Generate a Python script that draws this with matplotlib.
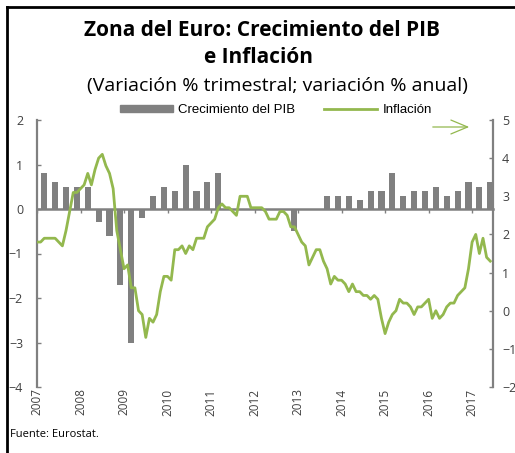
import numpy as np
import matplotlib
matplotlib.use("Agg")
import matplotlib.pyplot as plt
from matplotlib.lines import Line2D

# quarterly GDP growth (% q/q), 2007Q1 - 2017Q2
gdp = [0.8, 0.6, 0.5, 0.5,
       0.5, -0.3, -0.6, -1.7,
       -3.0, -0.2, 0.3, 0.5,
       0.4, 1.0, 0.4, 0.6,
       0.8, 0.0, 0.0, 0.0,
       0.0, 0.0, 0.0, -0.5,
       0.0, 0.0, 0.3, 0.3,
       0.3, 0.2, 0.4, 0.4,
       0.8, 0.3, 0.4, 0.4,
       0.5, 0.3, 0.4, 0.6,
       0.5, 0.6]

# monthly inflation (% y/y), Jan 2007 - Jun 2017
inflacion = [1.8, 1.8, 1.9, 1.9, 1.9, 1.9, 1.8, 1.7, 2.1, 2.6, 3.1, 3.1,
             3.2, 3.3, 3.6, 3.3, 3.7, 4.0, 4.1, 3.8, 3.6, 3.2, 2.1, 1.6,
             1.1, 1.2, 0.6, 0.6, 0.0, -0.1, -0.7, -0.2, -0.3, -0.1, 0.5, 0.9,
             0.9, 0.8, 1.6, 1.6, 1.7, 1.5, 1.7, 1.6, 1.9, 1.9, 1.9, 2.2,
             2.3, 2.4, 2.7, 2.8, 2.7, 2.7, 2.6, 2.5, 3.0, 3.0, 3.0, 2.7,
             2.7, 2.7, 2.7, 2.6, 2.4, 2.4, 2.4, 2.6, 2.6, 2.5, 2.2, 2.2,
             2.0, 1.8, 1.7, 1.2, 1.4, 1.6, 1.6, 1.3, 1.1, 0.7, 0.9, 0.8,
             0.8, 0.7, 0.5, 0.7, 0.5, 0.5, 0.4, 0.4, 0.3, 0.4, 0.3, -0.2,
             -0.6, -0.3, -0.1, 0.0, 0.3, 0.2, 0.2, 0.1, -0.1, 0.1, 0.1, 0.2,
             0.3, -0.2, 0.0, -0.2, -0.1, 0.1, 0.2, 0.2, 0.4, 0.5, 0.6, 1.1,
             1.8, 2.0, 1.5, 1.9, 1.4, 1.3]

years = list(range(2007, 2018))

# bars sit on the last month of each quarter, line on each month
x_q = 2007 + (3 * np.arange(len(gdp)) + 2) / 12
x_m = 2007 + np.arange(len(inflacion)) / 12

gris = "#808080"
verde = "#93b84e"
texto = "#404040"

fig = plt.figure(figsize=(5.15, 4.53), dpi=100)
ax = fig.add_axes([37 / 515, 66 / 453, 456 / 515, 267 / 453])
ax2 = ax.twinx()

ax.bar(x_q, gdp, width=0.14, color=gris, zorder=2)
ax2.plot(x_m, inflacion, color=verde, lw=2, zorder=3)

ax.set_xlim(2007, 2017.48)
ax.set_ylim(-4, 2)
ax2.set_ylim(-2, 5)
ax.set_yticks(range(-4, 3))
ax2.set_yticks(range(-2, 6))

for s in ["top", "right"]:
    ax.spines[s].set_visible(False)
for s in ["top", "bottom", "left"]:
    ax2.spines[s].set_visible(False)
ax.spines["bottom"].set_position(("data", 0))
ax.spines["bottom"].set_color(gris)
ax.spines["bottom"].set_linewidth(1.8)
ax.spines["bottom"].set_zorder(2.5)
ax.spines["left"].set_color(gris)
ax.spines["left"].set_linewidth(1.6)
ax2.spines["right"].set_color(gris)
ax2.spines["right"].set_linewidth(1.6)

ax.set_xticks(years)
ax.tick_params(axis="x", direction="out", length=3, width=1, color=gris,
               labelbottom=False)
ax.tick_params(axis="y", direction="in", length=3, width=1, color=gris,
               pad=10, labelsize=9, labelcolor=texto)
ax2.tick_params(axis="y", direction="in", length=3, width=1, color=gris,
                pad=6.5, labelsize=9, labelcolor=texto)
for lab in ax.get_yticklabels() + ax2.get_yticklabels():
    lab.set_fontfamily("Open Sans")

sec = ax.secondary_xaxis("bottom")
sec.set_xticks(years)
sec.spines["bottom"].set_visible(False)
sec.tick_params(axis="x", length=0, pad=1, labelsize=8.5, labelcolor=texto,
                labelrotation=90)
for lab in sec.get_xticklabels():
    lab.set_fontfamily("Open Sans")

# legend above plot area
handles = [plt.Rectangle((0, 0), 1, 1, color=gris),
           Line2D([0], [0], color=verde, lw=2)]
fig.legend(handles, ["Crecimiento del PIB", "Inflación"], loc="center",
           bbox_to_anchor=(276 / 515, 1 - 110 / 453), ncol=2, frameon=False,
           prop={"family": "Liberation Sans", "size": 9.5},
           handlelength=4.0, handleheight=0.5, handletextpad=0.4,
           columnspacing=2.2)

# arrow pointing to the right axis
ax.annotate("", xy=(472 / 515, 1 - 127 / 453), xytext=(430 / 515, 1 - 127 / 453),
            xycoords="figure fraction", textcoords="figure fraction",
            arrowprops=dict(arrowstyle="->,head_length=1.2,head_width=0.5",
                            color=verde, lw=0.9))

fig.text(262 / 515, 1 - 36 / 453, "Zona del Euro: Crecimiento del PIB",
         ha="center", va="baseline", fontsize=15, fontweight="bold",
         family="Open Sans")
fig.text(259 / 515, 1 - 63 / 453, "e Inflación", ha="center", va="baseline",
         fontsize=15, fontweight="bold", family="Open Sans")
fig.text(277 / 515, 1 - 91 / 453, "(Variación % trimestral; variación % anual)",
         ha="center", va="baseline", fontsize=14, family="Open Sans")
fig.text(10 / 515, 1 - 437 / 453, "Fuente: Eurostat.", ha="left",
         va="baseline", fontsize=8, family="Open Sans")

# frame lines (top and left only, as cropped in the original)
fig.add_artist(Line2D([7 / 515, 1], [1 - 7 / 453, 1 - 7 / 453],
                      color="black", lw=2, transform=fig.transFigure))
fig.add_artist(Line2D([7 / 515, 7 / 515], [0, 1 - 7 / 453],
                      color="black", lw=2, transform=fig.transFigure))

fig.savefig("out.png", dpi=100)
